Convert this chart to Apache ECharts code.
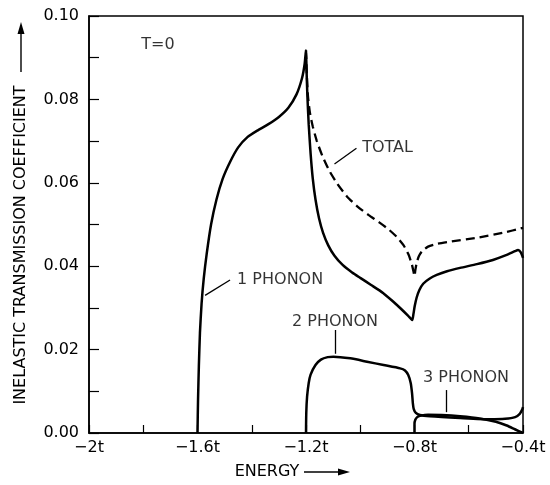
<!DOCTYPE html>
<html><head><meta charset="utf-8">
<script src="https://cdn.jsdelivr.net/npm/echarts@6/dist/echarts.min.js"></script>
<style>html,body{margin:0;padding:0;background:#fff}#c{width:550px;height:485px}</style>
</head><body><div id="c"></div>
<script>
const onePhononX = [-1.600,-1.598,-1.595,-1.591,-1.585,-1.577,-1.566,-1.550,-1.530,-1.507,-1.480,-1.450,-1.415,-1.380,-1.340,-1.300,-1.265,-1.235,-1.215,-1.205,-1.200,
  -1.198,-1.195,-1.190,-1.183,-1.175,-1.165,-1.152,-1.137,-1.118,-1.095,-1.065,-1.030,-1.000,-0.960,-0.916,-0.880,-0.850,-0.825,-0.812,-0.808,
  -0.804,-0.799,-0.792,-0.782,-0.768,-0.745,-0.718,-0.680,-0.632,-0.570,-0.511,-0.460,-0.430,-0.418,-0.408,-0.400];
const onePhononY = [0.0000,0.0080,0.0160,0.0240,0.0310,0.0370,0.0430,0.0500,0.0560,0.0610,0.0650,0.0685,0.0710,0.0725,0.0740,0.0758,0.0780,0.0812,0.0850,0.0885,0.0918,
  0.0870,0.0810,0.0740,0.0670,0.0610,0.0560,0.0515,0.0480,0.0450,0.0425,0.0403,0.0385,0.0372,0.0355,0.0336,0.0316,0.0298,0.0282,0.0273,0.0271,
  0.0285,0.0305,0.0325,0.0343,0.0358,0.0370,0.0379,0.0388,0.0396,0.0405,0.0415,0.0427,0.0436,0.0439,0.0433,0.0420];

const totalX = [-1.200,-1.197,-1.193,-1.186,-1.175,-1.160,-1.140,-1.115,-1.085,-1.050,-1.010,-0.970,-0.930,-0.895,-0.865,-0.840,-0.822,-0.810,-0.803,-0.800,
  -0.797,-0.792,-0.784,-0.772,-0.750,-0.715,-0.669,-0.571,-0.474,-0.400];
const totalY = [0.0918,0.0860,0.0810,0.0770,0.0735,0.0700,0.0665,0.0630,0.0598,0.0568,0.0543,0.0523,0.0505,0.0488,0.0470,0.0450,0.0428,0.0405,0.0385,0.0376,
  0.0390,0.0408,0.0424,0.0436,0.0447,0.0454,0.0459,0.0468,0.0480,0.0492];

const twoPhononX = [-1.200,-1.199,-1.196,-1.190,-1.183,-1.165,-1.145,-1.120,-1.099,-1.037,-0.975,-0.914,-0.853,-0.835,-0.823,-0.814,-0.809,-0.806,-0.803,
  -0.795,-0.780,-0.743,-0.632,-0.522,-0.466,-0.429,-0.412,-0.403,-0.400];
const twoPhononY = [0.0000,0.0048,0.0087,0.0120,0.0140,0.0163,0.0176,0.0182,0.0183,0.0179,0.0171,0.0163,0.0155,0.0150,0.0139,0.0120,0.0095,0.0071,0.0058,
  0.0048,0.0043,0.0040,0.0036,0.0033,0.0034,0.0038,0.0046,0.0056,0.0062];

const threePhononX = [-0.800,-0.800,-0.797,-0.790,-0.780,-0.750,-0.700,-0.632,-0.560,-0.500,-0.460,-0.430,-0.400];
const threePhononY = [0.0000,0.0022,0.0032,0.0038,0.0041,0.0044,0.0043,0.0040,0.0035,0.0027,0.0018,0.0009,0.0000];

const xTickLabels = {"-2":"−2t","-1.6":"−1.6t","-1.2":"−1.2t","-0.8":"−0.8t","-0.4":"−0.4t"};
const yTickLabels = ["0.00","0.02","0.04","0.06","0.08","0.10"];

const annoTexts = ["T=0","TOTAL","1 PHONON","2 PHONON","3 PHONON"];
const annoX = [-1.746,-0.993,-1.454,-1.093,-0.610];
const annoY = [0.0930,0.0683,0.0367,0.0267,0.0132];
const annoAlign = ["center","left","left","center","center"];
const leaders = [
  [[-1.014,0.0683],[-1.095,0.0645]],
  [[-1.480,0.0367],[-1.572,0.0330]],
  [[-1.093,0.0247],[-1.093,0.0190]],
  [[-0.684,0.0103],[-0.684,0.0050]]
];

const zip = (xs, ys) => xs.map((x, i) => [x, ys[i]]);
const FONT = 'DejaVu Sans';
const chart = echarts.init(document.getElementById('c'), null, {renderer: 'canvas'});
const lineStyle = {color: '#000', width: 2.5};
const option = {
  backgroundColor: '#fff',
  animation: false,
  grid: {left: 89, right: 27, top: 16, bottom: 52, show: true, borderColor: '#000', borderWidth: 1.5, backgroundColor: 'transparent'},
  xAxis: {
    type: 'value', min: -2, max: -0.4, interval: 0.2,
    axisLine: {lineStyle: {color: '#000', width: 1.5}},
    axisTick: {inside: true, length: 8, lineStyle: {color: '#000', width: 1.2}},
    splitLine: {show: false},
    axisLabel: {
      color: '#000', fontFamily: FONT, fontSize: 16, margin: 7,
      formatter: v => { const k = (Math.round(v * 10) / 10).toString(); return xTickLabels[k] || ''; }
    }
  },
  yAxis: {
    type: 'value', min: 0, max: 0.1, interval: 0.02,
    axisLine: {lineStyle: {color: '#000', width: 1.5}},
    axisTick: {inside: true, length: 10, lineStyle: {color: '#000', width: 1.2}},
    minorTick: {show: true, splitNumber: 2, length: 10, lineStyle: {color: '#000', width: 1.2}},
    splitLine: {show: false},
    axisLabel: {color: '#000', fontFamily: FONT, fontSize: 16, margin: 10,
      formatter: v => yTickLabels[Math.round(v / 0.02)]}
  },
  series: [
    {type: 'line', data: zip(onePhononX, onePhononY), showSymbol: false, smooth: 0.2, lineStyle, z: 3},
    {type: 'line', data: zip(totalX, totalY), showSymbol: false, smooth: 0.2,
      lineStyle: {color: '#000', width: 2.3, type: [9, 5]}, z: 3},
    {type: 'line', data: zip(twoPhononX, twoPhononY), showSymbol: false, smooth: 0.2, lineStyle, z: 3},
    {type: 'line', data: zip(threePhononX, threePhononY), showSymbol: false, smooth: 0.2, lineStyle, z: 3},
    {type: 'scatter', symbolSize: 0, z: 5,
      data: annoTexts.map((t, i) => ({value: [annoX[i], annoY[i]], name: t,
        label: {show: true, position: 'inside', align: annoAlign[i], verticalAlign: 'middle',
          formatter: t, color: '#000', fontFamily: FONT, fontSize: 16}})),
      markLine: {silent: true, symbol: ['none', 'none'], label: {show: false},
        lineStyle: {color: '#000', width: 1.3, type: 'solid'},
        data: leaders.map(seg => [{coord: seg[0]}, {coord: seg[1]}])}
    }
  ],
  graphic: [
    {type: 'text', x: 21, y: 245, rotation: Math.PI / 2, style: {text: 'INELASTIC TRANSMISSION COEFFICIENT', fill: '#000',
      font: '16px ' + FONT, align: 'center', verticalAlign: 'middle'}},
    {type: 'line', shape: {x1: 21, y1: 72, x2: 21, y2: 32}, style: {stroke: '#000', lineWidth: 1.4}},
    {type: 'polygon', shape: {points: [[21, 22], [17.5, 34], [24.5, 34]]}, style: {fill: '#000'}},
    {type: 'text', x: 267, y: 472, style: {text: 'ENERGY', fill: '#000', font: '16px ' + FONT, align: 'center', verticalAlign: 'middle'}},
    {type: 'line', shape: {x1: 304, y1: 472, x2: 340, y2: 472}, style: {stroke: '#000', lineWidth: 1.4}},
    {type: 'polygon', shape: {points: [[350, 472], [338, 468.5], [338, 475.5]]}, style: {fill: '#000'}}
  ]
};
chart.setOption(option);
</script></body></html>
